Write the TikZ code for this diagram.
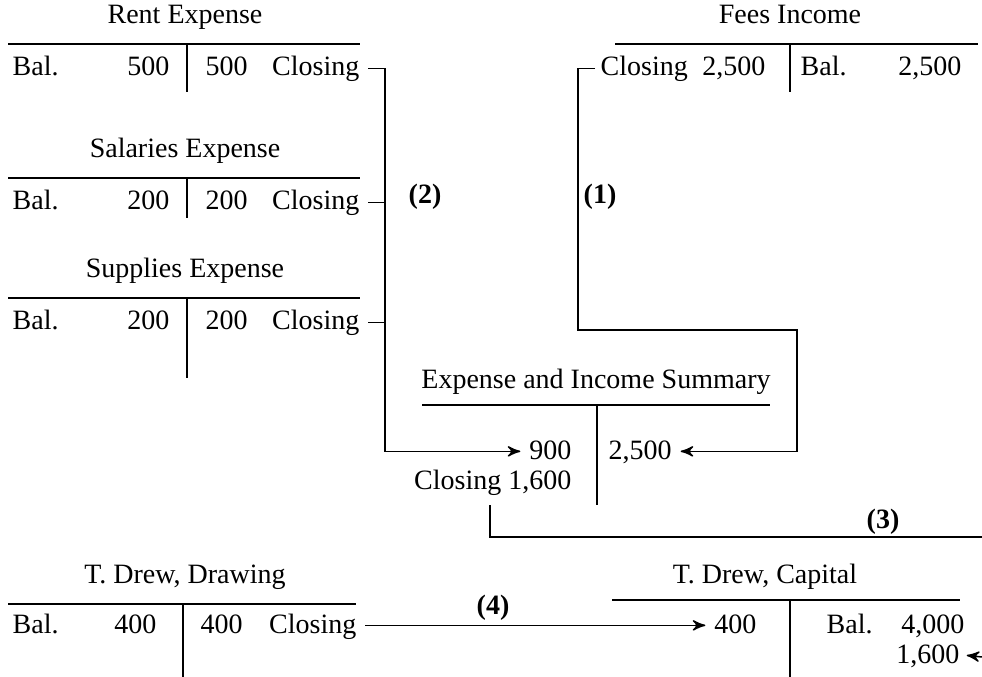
\documentclass[tikz,border=0pt]{standalone}
\usepackage{fontspec}
\setmainfont{Liberation Serif}
\usetikzlibrary{arrows}

\tikzset{
  ttl/.style={font=\fontsize{8.4}{10}\selectfont, inner sep=0pt, anchor=base},
  txt/.style={font=\fontsize{8.4}{10}\selectfont, inner sep=0pt},
  lbl/.style={font=\fontsize{8.4}{10}\selectfont\bfseries, inner sep=0pt},
  tacc/.style={black, line width=.45pt},
  link/.style={black, line width=.45pt},
}

\begin{document}
\begin{tikzpicture}[x=.3pt, y=-.3pt, >=stealth']
\useasboundingbox (0,0) rectangle (982,677);

% expense accounts on the left
\foreach \n/\t/\a/\yy/\bot in {rent/Rent Expense/500/44/92,
    sal/Salaries Expense/200/178/218, sup/Supplies Expense/200/298/378} {
  \node[ttl] (\n-t) at (185,\yy-20) {\t};
  \draw[tacc] (8,\yy) -- (360,\yy);
  \draw[tacc] (187,\yy) -- (187,\bot);
  \node[txt, anchor=base west] (\n-bal) at (12,\yy+32) {Bal.};
  \node[txt, anchor=base east] (\n-dr) at (170,\yy+32) {\a};
  \node[txt, anchor=base west] (\n-cr) at (205,\yy+32) {\a};
  \node[txt, anchor=base east] (\n-cl) at (360,\yy+32) {Closing};
}

% fees income
\node[ttl] (fee-t) at (790,24) {Fees Income};
\draw[tacc] (615,44) -- (978,44);
\draw[tacc] (790,44) -- (790,92);
\node[txt, anchor=base west] (fee-cl) at (600,76) {Closing};
\node[txt, anchor=base east] (fee-dr) at (766,76) {2,500};
\node[txt, anchor=base west] (fee-bal) at (800,76) {Bal.};
\node[txt, anchor=base east] (fee-cr) at (962,76) {2,500};

% expense and income summary
\node[ttl] (sum-t) at (596,389) {Expense and Income Summary};
\draw[tacc] (422,405) -- (770,405);
\draw[tacc] (597,405) -- (597,505);
\node[txt, anchor=base east] (sum-dr) at (572,459) {900};
\node[txt, anchor=base west] (sum-cr) at (608,459) {2,500};
\node[txt, anchor=base east] (sum-cl) at (572,490) {Closing 1,600};

% drawing and capital
\node[ttl] (drw-t) at (185,583) {T. Drew, Drawing};
\draw[tacc] (8,604) -- (356,604);
\draw[tacc] (183,604) -- (183,677);
\node[txt, anchor=base west] (drw-bal) at (12,633) {Bal.};
\node[txt, anchor=base east] (drw-dr) at (157,633) {400};
\node[txt, anchor=base west] (drw-cr) at (200,633) {400};
\node[txt, anchor=base east] (drw-cl) at (357,633) {Closing};

\node[ttl] (cap-t) at (765,583) {T. Drew, Capital};
\draw[tacc] (612,600) -- (960,600);
\draw[tacc] (790,600) -- (790,677);
\node[txt, anchor=base east] (cap-dr) at (757,633) {400};
\node[txt, anchor=base west] (cap-bal) at (826,633) {Bal.};
\node[txt, anchor=base east] (cap-cr) at (965,633) {4,000};
\node[txt, anchor=base east] (cap-ex) at (960,663) {1,600};

% closing entries
\coordinate (bus2) at (385,0);
\coordinate (bus1) at (578,330);
\coordinate (rt1) at (797,330);
\coordinate (bus3) at (490,537);
\coordinate (e3) at (982,537);
\coordinate (e4) at (982,657);

\draw[link,->] ([xshift=2.5pt]rent-cl.mid east) -| (bus2 |- sum-dr.mid west)
  -- ([xshift=-2.5pt]sum-dr.mid west);
\foreach \n in {sal,sup}
  \draw[link] ([xshift=2.5pt]\n-cl.mid east) -- (bus2 |- \n-cl.mid east);
\node[lbl] (l2) at (425,197) {(2)};

\draw[link,->] ([xshift=-1.5pt]fee-cl.mid west) -| (bus1) -- (rt1)
  |- ([xshift=2.5pt]sum-cr.mid east);
\node[lbl] (l1) at (600,197) {(1)};

\draw[link] (bus3 |- 0,505) -- (bus3) -- (e3);
\node[lbl] (l3) at (883,522) {(3)};

\draw[link,->] ([xshift=2.5pt]drw-cl.mid east) -- ([xshift=-2.5pt]cap-dr.mid west);
\node[lbl] (l4) at (493,608) {(4)};

\draw[link,->] (e4) -- ([xshift=2pt]cap-ex.mid east);
\end{tikzpicture}
\end{document}
